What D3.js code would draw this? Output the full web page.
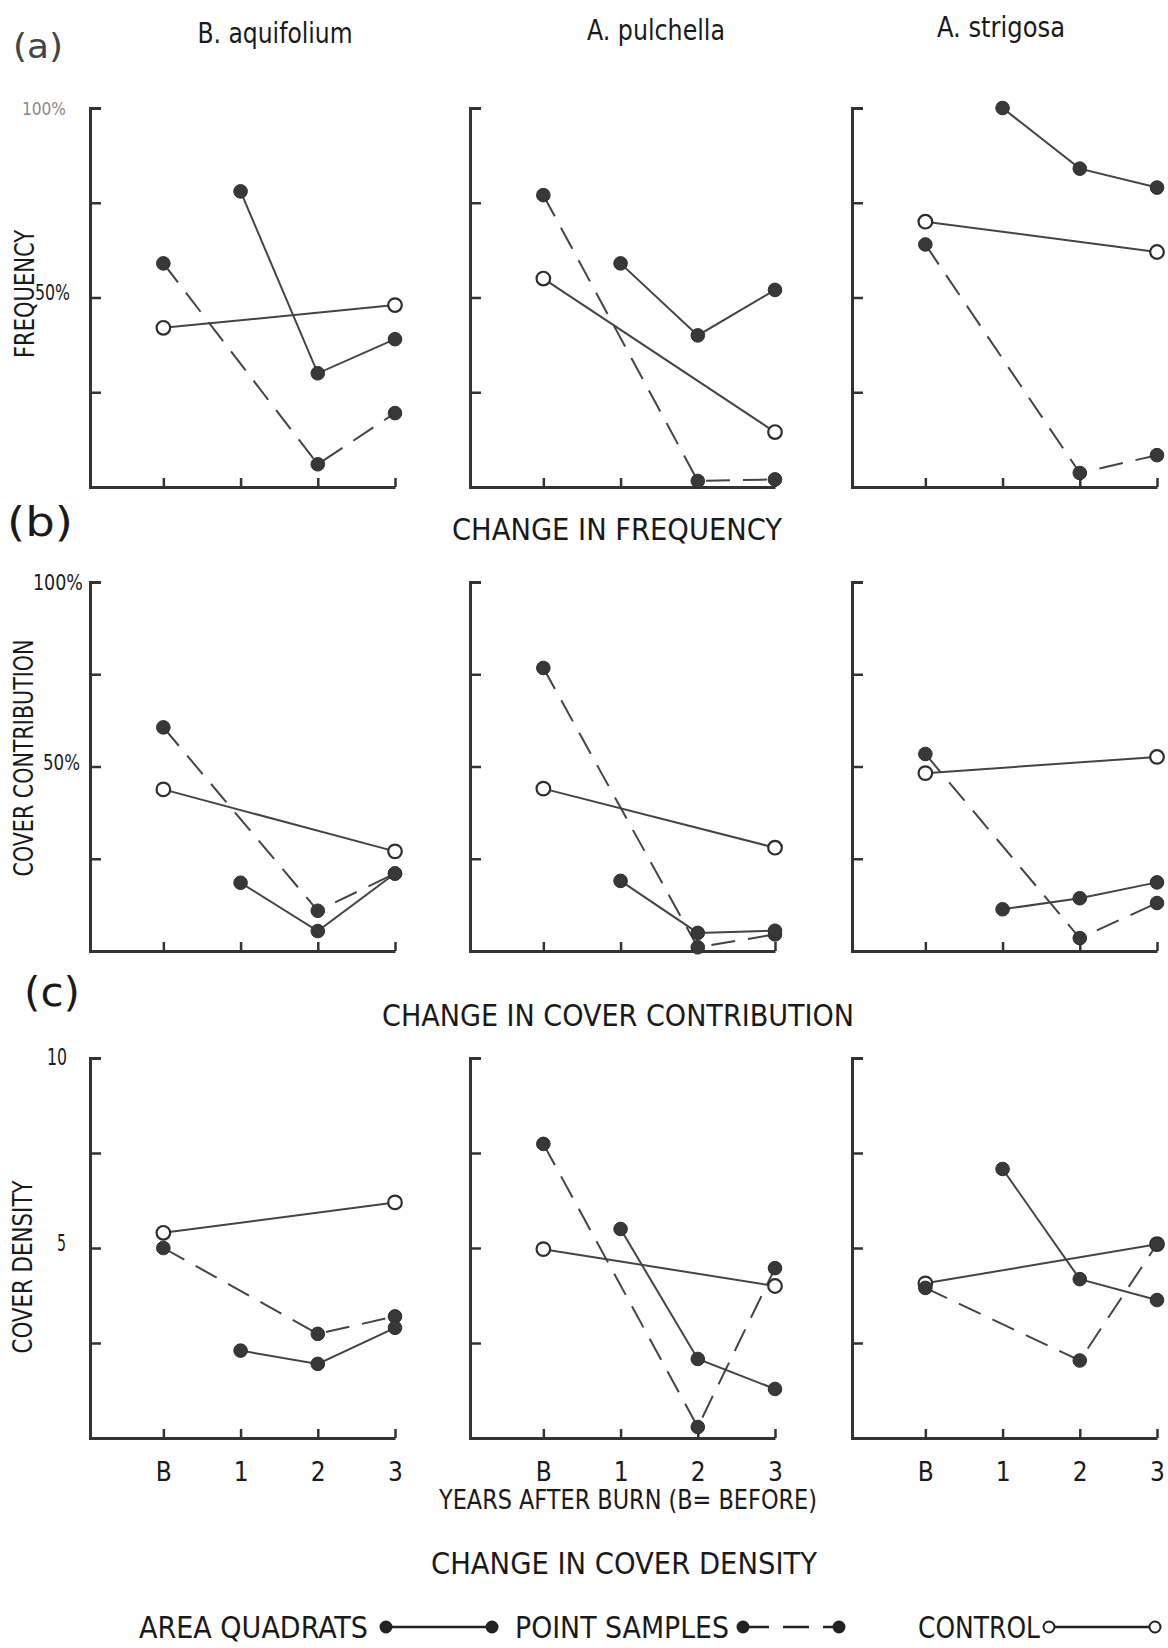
<!DOCTYPE html>
<html>
<head>
<meta charset="utf-8">
<script src="https://cdn.jsdelivr.net/npm/d3@7"></script>
<style>
  body { margin: 0; background: #fff; }
  svg text { font-family: "Liberation Sans Narrow", "DejaVu Sans Condensed", "Roboto", sans-serif; fill: #1a1a1a; }
</style>
</head>
<body>
<svg id="fig" width="1168" height="1648"></svg>
<script>
// categories
const years = ["B", "1", "2", "3"];
const species = ["B. aquifolium", "A. pulchella", "A. strigosa"];

// (a) frequency, % (null = not sampled)
const freqArea    = [[null, 78, 30, 39], [null, 59, 40, 52], [null, 100, 84, 79]];
const freqPoint   = [[59, null, 6, 19.5], [77, null, 1.6, 2], [64, null, 3.7, 8.4]];
const freqControl = [[42, null, null, 48], [55, null, null, 14.5], [70, null, null, 62]];

// (b) cover contribution, %
const coverArea    = [[null, 18.5, 5.4, 21], [null, 19, 4.9, 5.5], [null, 11.3, 14.3, 18.6]];
const coverPoint   = [[60.6, null, 10.9, 21], [76.7, null, 1, 4.5], [53.4, null, 3.5, 13]];
const coverControl = [[43.8, null, null, 27], [44, null, null, 28], [48.2, null, null, 52.6]];

// (c) cover density
const densArea    = [[null, 2.3, 1.95, 2.9], [null, 5.5, 2.08, 1.29], [null, 7.08, 4.18, 3.63]];
const densPoint   = [[5.0, null, 2.74, 3.2], [7.74, null, 0.29, 4.47], [3.95, null, 2.04, 5.1]];
const densControl = [[5.4, null, null, 6.2], [4.97, null, null, 4.0], [4.07, null, null, 5.1]];

const rows = [
    { area: freqArea, point: freqPoint, control: freqControl, max: 100, ticks: [0, 25, 50, 75, 100], top: 108, bottom: 487 },
    { area: coverArea, point: coverPoint, control: coverControl, max: 100, ticks: [0, 25, 50, 75, 100], top: 582, bottom: 951 },
    { area: densArea, point: densPoint, control: densControl, max: 10, ticks: [0, 2.5, 5, 7.5, 10], top: 1058, bottom: 1438 }
];
const colLeft = [90, 470, 852];
const plotW = 305;

const ink = "#333";
const svg = d3.select("#fig");

function txt(x, y, s, size, len, opts) {
    opts = opts || {};
    let t = svg.append("text")
        .attr("x", x).attr("y", y)
        .attr("text-anchor", opts.anchor || "middle")
        .attr("dominant-baseline", "central")
        .style("font-size", size + "px")
        .text(s);
    if (len) t.attr("textLength", len).attr("lengthAdjust", "spacingAndGlyphs");
    if (opts.rotate) t.attr("transform", "rotate(-90," + x + "," + y + ")");
    if (opts.fill) t.style("fill", opts.fill);
    return t;
}

rows.forEach(function(row, r) {
    colLeft.forEach(function(left, c) {
        let x = d3.scaleLinear().domain([-0.95, 3]).range([left, left + plotW]);
        let y = d3.scaleLinear().domain([0, row.max]).range([row.bottom, row.top]);
        let g = svg.append("g");

        // y axis, ticks pointing inward
        let ya = g.append("g")
            .attr("transform", "translate(" + left + ",0)")
            .call(d3.axisLeft(y).tickValues(row.ticks).tickSizeInner(-11).tickSizeOuter(-11).tickFormat(""));
        // x axis, ticks pointing up
        let xa = g.append("g")
            .attr("transform", "translate(0," + row.bottom + ")")
            .call(d3.axisBottom(x).tickValues([0, 1, 2, 3]).tickSizeInner(-9).tickSizeOuter(0)
                .tickFormat(function(d) { return r == 2 ? years[d] : ""; }));
        [ya, xa].forEach(function(a) {
            a.select(".domain").attr("stroke", ink).attr("stroke-width", 3);
            a.selectAll(".tick line").attr("stroke", ink).attr("stroke-width", 2.5);
        });
        xa.selectAll(".tick text")
            .attr("y", 25)
            .style("font-size", "26px")
            .style("fill", "#1a1a1a")
            .style("font-family", "\"Liberation Sans Narrow\", \"DejaVu Sans Condensed\", sans-serif");

        let line = d3.line()
            .x(function(d) { return x(d.i); })
            .y(function(d) { return y(d.v); });

        let series = [
            { data: row.control[c], dash: null, open: true },
            { data: row.point[c], dash: "24,13", open: false },
            { data: row.area[c], dash: null, open: false }
        ];
        series.forEach(function(s) {
            s.pts = s.data.map(function(v, i) { return { i: i, v: v }; })
                .filter(function(d) { return d.v != null; });
            g.append("path")
                .datum(s.pts)
                .attr("fill", "none")
                .attr("stroke", "#444")
                .attr("stroke-width", 2)
                .attr("stroke-dasharray", s.dash)
                .attr("d", line);
        });
        series.forEach(function(s) {
            g.selectAll(null)
                .data(s.pts)
                .enter()
                .append("circle")
                .attr("cx", function(d) { return x(d.i); })
                .attr("cy", function(d) { return y(d.v); })
                .attr("r", 6.8)
                .attr("fill", s.open ? "#fff" : "#383838")
                .attr("stroke", "#2e2e2e")
                .attr("stroke-width", s.open ? 2.2 : 1);
        });
    });
});

// panel letters
txt(38, 46, "(a)", 34, 50, { fill: "#444" });
txt(40, 522, "(b)", 40, 66);
txt(52, 992, "(c)", 40, 56);

// species titles
txt(275, 33, species[0], 29, 155);
txt(656, 30, species[1], 29, 138);
txt(1001, 27, species[2], 29, 128);

// row titles
txt(617, 529, "CHANGE  IN  FREQUENCY", 31, 330);
txt(618, 1015, "CHANGE  IN  COVER  CONTRIBUTION", 31, 472);
txt(624, 1563, "CHANGE  IN  COVER  DENSITY", 31, 386);
txt(628, 1500, "YEARS  AFTER  BURN  (B= BEFORE)", 26, 378);

// y titles
txt(24, 294, "FREQUENCY", 27, 128, { rotate: true });
txt(23, 758, "COVER  CONTRIBUTION", 27, 237, { rotate: true });
txt(22, 1267, "COVER  DENSITY", 27, 173, { rotate: true });

// y tick labels
txt(66, 108, "100%", 18, 44, { anchor: "end", fill: "#8a8a8a" });
txt(70, 292, "50%", 22, 35, { anchor: "end" });
txt(83, 582, "100%", 22, 50, { anchor: "end" });
txt(80, 762, "50%", 22, 37, { anchor: "end" });
txt(67, 1057, "10", 23, 20, { anchor: "end" });
txt(66, 1243, "5", 23, 9, { anchor: "end" });

// legend
const legendY = 1627;
const legendItems = [
    { label: "AREA  QUADRATS", lx: 139, len: 229, x1: 386, x2: 492, dash: null, open: false },
    { label: "POINT  SAMPLES", lx: 515, len: 214, x1: 743, x2: 839, dash: "26,14", open: false },
    { label: "CONTROL", lx: 918, len: 122, x1: 1049, x2: 1155, dash: null, open: true }
];
legendItems.forEach(function(it) {
    txt(it.lx, legendY, it.label, 31, it.len, { anchor: "start" });
    svg.append("line")
        .attr("x1", it.x1).attr("x2", it.x2)
        .attr("y1", legendY).attr("y2", legendY)
        .attr("stroke", "#222").attr("stroke-width", 2.5)
        .attr("stroke-dasharray", it.dash);
    [it.x1, it.x2].forEach(function(cx) {
        svg.append("circle")
            .attr("cx", cx).attr("cy", legendY).attr("r", 5.5)
            .attr("fill", it.open ? "#fff" : "#222")
            .attr("stroke", "#222").attr("stroke-width", 2);
    });
});
</script>
</body>
</html>
